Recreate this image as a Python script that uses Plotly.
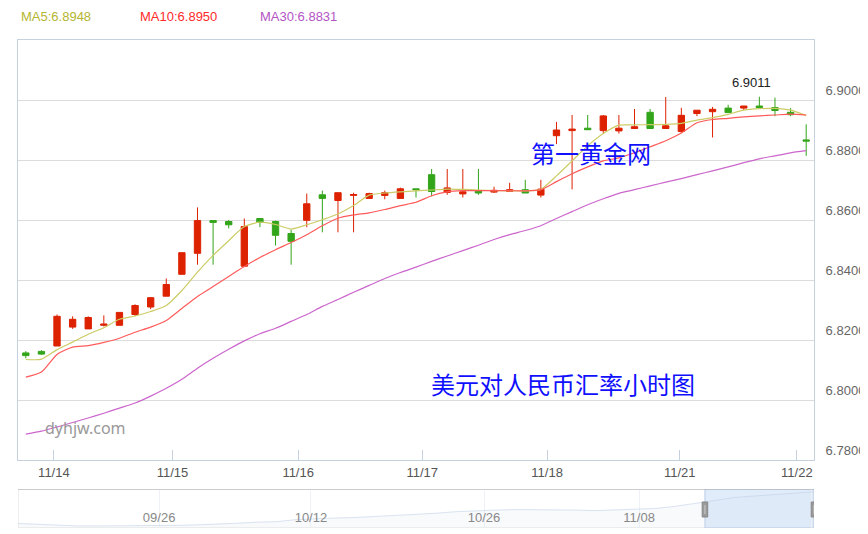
import plotly.graph_objects as go
import numpy as np

# ---------------- data ----------------
open_ = [6.8157, 6.8162, 6.8180, 6.8243, 6.8237, 6.8249, 6.8249, 6.8285, 6.8310, 6.8346,
         6.8419, 6.8489, 6.8598, 6.8595, 6.8446, 6.8605, 6.8595, 6.8555, 6.8599, 6.8684,
         6.8665, 6.8682, 6.8672, 6.8682, 6.8672, 6.8704, 6.8751, 6.8692, 6.8687, 6.8698,
         6.8693, 6.8695, 6.8701, 6.8683, 6.8881, 6.8898, 6.8906, 6.8898, 6.8897, 6.8905,
         6.8959, 6.8905, 6.8895, 6.8955, 6.8961, 6.8973, 6.8973, 6.8980, 6.8975, 6.8959,
         6.8867]
high = [6.8163, 6.8166, 6.8285, 6.8279, 6.8279, 6.8282, 6.8292, 6.8319, 6.8343, 6.8405,
        6.8491, 6.8642, 6.8598, 6.8600, 6.8605, 6.8605, 6.8598, 6.8568, 6.8688, 6.8698,
        6.8691, 6.8691, 6.8691, 6.8698, 6.8708, 6.8704, 6.8770, 6.8770, 6.8770, 6.8770,
        6.8711, 6.8724, 6.8734, 6.8734, 6.8927, 6.8950, 6.8950, 6.8950, 6.8950, 6.8970,
        6.8970, 6.9010, 6.8974, 6.8966, 6.8977, 6.8984, 6.8980, 6.9011, 6.9008, 6.8973,
        6.8919]
low = [6.8139, 6.8150, 6.8180, 6.8237, 6.8237, 6.8245, 6.8249, 6.8280, 6.8303, 6.8346,
       6.8419, 6.8451, 6.8451, 6.8572, 6.8446, 6.8576, 6.8515, 6.8451, 6.8576, 6.8559,
       6.8559, 6.8559, 6.8672, 6.8669, 6.8672, 6.8675, 6.8679, 6.8684, 6.8675, 6.8684,
       6.8690, 6.8695, 6.8690, 6.8675, 6.8853, 6.8702, 6.8901, 6.8890, 6.8888, 6.8905,
       6.8905, 6.8905, 6.8891, 6.8946, 6.8875, 6.8958, 6.8966, 6.8975, 6.8946, 6.8946,
       6.8814]
close = [6.8148, 6.8153, 6.8279, 6.8269, 6.8275, 6.8253, 6.8292, 6.8315, 6.8341, 6.8385,
         6.8491, 6.8598, 6.8592, 6.8584, 6.8578, 6.8592, 6.8549, 6.8529, 6.8654, 6.8672,
         6.8691, 6.8685, 6.8688, 6.8691, 6.8704, 6.8701, 6.8695, 6.8707, 6.8694, 6.8690,
         6.8699, 6.8701, 6.8690, 6.8703, 6.8900, 6.8903, 6.8901, 6.8947, 6.8906, 6.8911,
         6.8905, 6.8914, 6.8949, 6.8966, 6.8969, 6.8958, 6.8980, 6.8975, 6.8965, 6.8951,
         6.8863]
ma5 = [6.8135, 6.8136, 6.8168, 6.8193, 6.8219, 6.8241, 6.8269, 6.8280, 6.8295, 6.8315,
       6.8365, 6.8426, 6.8482, 6.8531, 6.8578, 6.8593, 6.8585, 6.8570, 6.8584, 6.8601,
       6.8620, 6.8648, 6.8683, 6.8690, 6.8694, 6.8697, 6.8700, 6.8703, 6.8702, 6.8700,
       6.8698, 6.8697, 6.8697, 6.8702, 6.8747, 6.8797, 6.8847, 6.8888, 6.8916, 6.8917,
       6.8918, 6.8919, 6.8922, 6.8933, 6.8941, 6.8952, 6.8966, 6.8971, 6.8972, 6.8966,
       6.8948]
ma10 = [6.8076, 6.8093, 6.8152, 6.8176, 6.8181, 6.8192, 6.8206, 6.8226, 6.8243, 6.8265,
        6.8305, 6.8345, 6.8378, 6.8412, 6.8445, 6.8475, 6.8501, 6.8525, 6.8551, 6.8581,
        6.8606, 6.8617, 6.8624, 6.8635, 6.8648, 6.8659, 6.8681, 6.8694, 6.8698, 6.8698,
        6.8698, 6.8698, 6.8697, 6.8701, 6.8728, 6.8754, 6.8777, 6.8797, 6.8807, 6.8824,
        6.8844, 6.8864, 6.8890, 6.8924, 6.8935, 6.8939, 6.8944, 6.8947, 6.8950, 6.8953,
        6.8950]
ma30 = [6.7886, 6.7896, 6.7910, 6.7925, 6.7940, 6.7956, 6.7973, 6.7990, 6.8013, 6.8039,
        6.8069, 6.8106, 6.8139, 6.8169, 6.8197, 6.8221, 6.8239, 6.8262, 6.8285, 6.8312,
        6.8335, 6.8359, 6.8382, 6.8405, 6.8425, 6.8443, 6.8462, 6.8480, 6.8498, 6.8516,
        6.8535, 6.8551, 6.8565, 6.8581, 6.8605, 6.8628, 6.8651, 6.8671, 6.8689, 6.8701,
        6.8714, 6.8726, 6.8738, 6.8751, 6.8764, 6.8777, 6.8791, 6.8804, 6.8814, 6.8824,
        6.8831]
tick_pos = [1.8, 9.4, 17.45, 25.4, 33.4, 41.9, 49.4]
tick_text = ["11/14", "11/15", "11/16", "11/17", "11/18", "11/21", "11/22"]
y_ticks = [6.78, 6.80, 6.82, 6.84, 6.86, 6.88, 6.90]

hist = [6.6885, 6.6832, 6.6765, 6.6732, 6.6732, 6.6732, 6.6732, 6.6732, 6.6765, 6.6799,
        6.6832, 6.6898, 6.6964, 6.6997, 6.7130, 6.7196, 6.7229, 6.7262, 6.7328, 6.7361,
        6.7428, 6.7527, 6.7626, 6.7692, 6.7726, 6.7759, 6.7759, 6.7726, 6.7726, 6.7692,
        6.7726, 6.7759, 6.7825, 6.7957, 6.8123, 6.8322, 6.8520, 6.8620, 6.8686, 6.8785,
        6.8871]
hist_tick_pos = [7.09, 14.72, 23.42, 31.21, 39.85]
hist_tick_text = ["09/26", "10/12", "10/26", "11/08", "11/22"]
window = [34.52, 40.0]

# ---------------- geometry (page body has an 8px margin) ----------------
OFF = 8
W, H = 868 - OFF, 534 - OFF
PL, PR = 18, 814            # plot left/right in window pixels
main_top, main_bot = 40, 460
sl_top, sl_bot = 489, 528
ML = PL - OFF
MR = W - ML - (PR - PL)


def px(xp):
    return (xp - PL) / (PR - PL)


def py(yp):
    return 1 - (yp - OFF) / H


x = np.arange(len(open_))
RED = "#dd2200"
GREEN = "#33a51a"

fig = go.Figure()
fig.add_trace(go.Candlestick(
    x=x, open=open_, high=high, low=low, close=close,
    increasing=dict(line=dict(color=RED, width=1), fillcolor=RED),
    decreasing=dict(line=dict(color=GREEN, width=1), fillcolor=GREEN),
    whiskerwidth=0, showlegend=False, hoverinfo="skip",
    xaxis="x", yaxis="y"))
for name, vals, col in [("MA5", ma5, "#cccc66"), ("MA10", ma10, "#ff5a5a"), ("MA30", ma30, "#cc66cc")]:
    fig.add_trace(go.Scatter(x=x, y=vals, mode="lines",
                             line=dict(color=col, width=1.2, shape="spline", smoothing=0.6),
                             showlegend=False, hoverinfo="skip", xaxis="x", yaxis="y"))

# slider data shadow
hx = np.arange(len(hist))
fig.add_trace(go.Scatter(x=hx, y=hist, mode="lines", line=dict(color="rgba(190,205,230,0.55)", width=1),
                         fill="tozeroy", fillcolor="rgba(215,225,240,0.18)",
                         showlegend=False, hoverinfo="skip", xaxis="x2", yaxis="y2"))

fig.update_layout(
    width=W, height=H,
    margin=dict(l=ML, r=MR, t=0, b=0, autoexpand=False),
    paper_bgcolor="white", plot_bgcolor="white",
    boxgap=0.42,
    font=dict(family="Liberation Sans, Arial, sans-serif", size=13, color="#555"),
    xaxis=dict(domain=[0, 1], range=[-0.5, len(open_) - 0.5], anchor="y",
               tickvals=tick_pos, ticktext=tick_text, ticks="inside", ticklen=10,
               tickcolor="#c6d1e0", showgrid=False, zeroline=False,
               showline=True, linecolor="#c6d1e0", mirror=True,
               rangeslider=dict(visible=False), tickfont=dict(size=13, color="#555")),
    yaxis=dict(domain=[py(main_bot), py(main_top)], range=[6.78, 6.92], side="right",
               anchor="x", tickvals=y_ticks, ticktext=[f"{v:.4f}" for v in y_ticks],
               ticks="", ticklabelposition="outside top", ticklabelstandoff=8,
               showgrid=True, gridcolor="#dcdcdc", gridwidth=1, zeroline=False,
               showline=True, linecolor="#c6d1e0", mirror=True,
               tickfont=dict(size=13, color="#666")),
    xaxis2=dict(domain=[0, 1], range=[0, len(hist) - 1], anchor="y2",
                tickvals=hist_tick_pos, ticktext=hist_tick_text, ticks="",
                ticklabelposition="inside", showgrid=True, gridcolor="#eef2f7",
                zeroline=False, showline=False, tickfont=dict(size=13, color="#888")),
    yaxis2=dict(domain=[py(sl_bot), py(sl_top)], range=[6.66, 6.905], anchor="x2",
                showticklabels=False, showgrid=False, zeroline=False, showline=False),
)

shapes = []
# slider frame
shapes.append(dict(type="rect", xref="x2", yref="y2", x0=0, x1=len(hist) - 1, y0=6.66, y1=6.905,
                   line=dict(color="#dddddd", width=1), layer="below"))
shapes.append(dict(type="line", xref="x2", yref="y2", x0=0, x1=len(hist) - 1, y0=6.905, y1=6.905,
                   line=dict(color="#aaaaaa", width=1)))
# selected window
shapes.append(dict(type="rect", xref="x2", yref="y2", x0=window[0], x1=window[1], y0=6.66, y1=6.905,
                   fillcolor="rgba(200,220,245,0.55)", line=dict(color="#b7cbe6", width=1), layer="below"))
# handles
for wx in window:
    shapes.append(dict(type="rect", xref="x2", yref="paper", x0=wx - 0.14, x1=wx + 0.14,
                       y0=py(517), y1=py(502), fillcolor="#999999", line=dict(color="#888888", width=1)))
    shapes.append(dict(type="line", xref="x2", yref="paper", x0=wx, x1=wx,
                       y0=py(514), y1=py(505), line=dict(color="#cccccc", width=1)))
fig.update_layout(shapes=shapes)

ann = []
legend_items = [("MA5", ma5, "#b5b530", 19), ("MA10", ma10, "#ff2a2a", 138), ("MA30", ma30, "#b455c4", 258)]
for name, vals, col, lx in legend_items:
    ann.append(dict(text=f"{name}:{vals[-1]:.4f}", xref="paper", yref="paper",
                    x=px(lx), y=py(16), xanchor="left", yanchor="middle",
                    showarrow=False, font=dict(size=13, color=col)))
imax = int(np.argmax(high))
ann.append(dict(text=f"{high[imax]:.4f}", x=imax, y=high[imax], xref="x", yref="y",
                xanchor="center", xshift=-8, yshift=14, showarrow=False, font=dict(size=13, color="#222")))
ann.append(dict(text="第一黄金网", xref="paper", yref="paper", x=px(591), y=py(152),
                xanchor="center", yanchor="middle",
                showarrow=False, font=dict(family="Noto Sans CJK SC", size=24, color="#1010ff")))
ann.append(dict(text="美元对人民币汇率小时图", xref="paper", yref="paper", x=px(563), y=py(383),
                xanchor="center", yanchor="middle",
                showarrow=False, font=dict(family="Noto Sans CJK SC", size=24, color="#1010ff")))
ann.append(dict(text="dyhjw.com", xref="paper", yref="paper", x=px(43), y=py(428),
                xanchor="left", yanchor="middle", showarrow=False,
                font=dict(family="Noto Sans, sans-serif", size=16, color="#999999")))
fig.update_layout(annotations=ann)

fig.write_html("out.html")
